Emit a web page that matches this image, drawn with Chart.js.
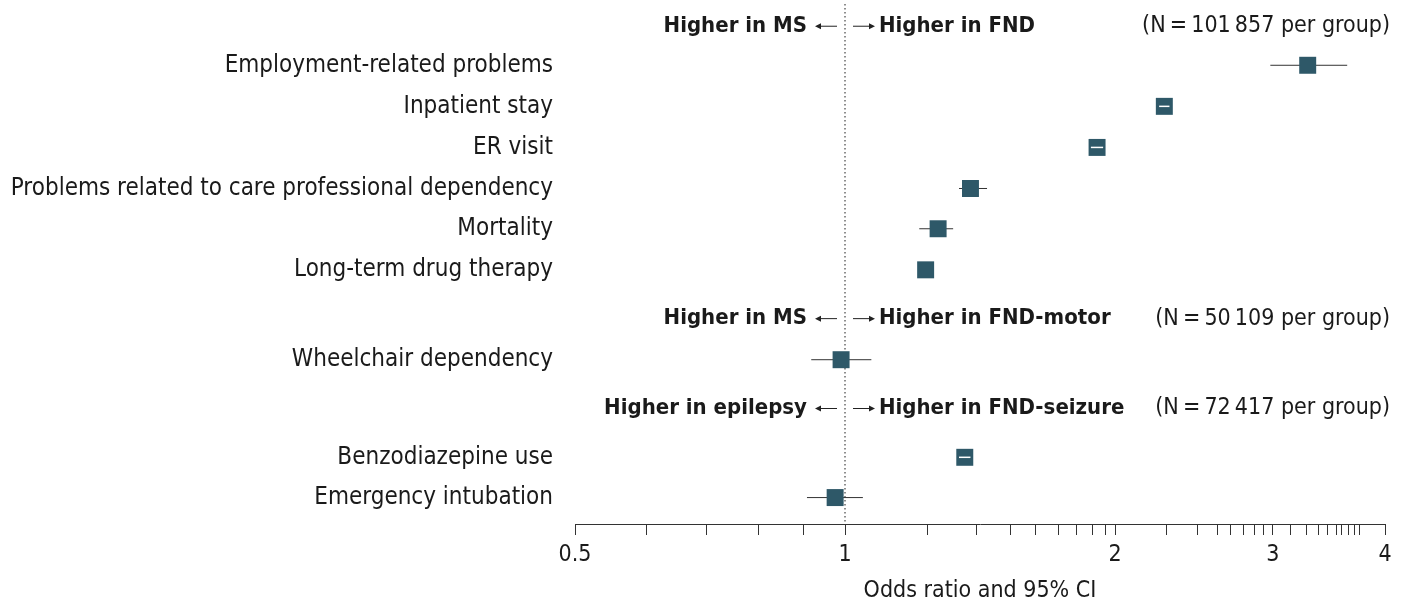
<!DOCTYPE html>
<html><head><meta charset="utf-8">
<script src="https://cdn.jsdelivr.net/npm/chart.js@4"></script>
<style>html,body{margin:0;padding:0;background:#fff}#w{width:1401px;height:609px}</style>
</head><body><div id="w"><canvas id="c"></canvas></div>
<script>
const labels = ["Employment-related problems","Inpatient stay","ER visit","Problems related to care professional dependency","Mortality","Long-term drug therapy","Wheelchair dependency","Benzodiazepine use","Emergency intubation"];
const rowPos = [0.96,1.97,2.98,3.99,4.98,5.99,8.20,10.6,11.59];
const oddsRatio = [3.28,2.27,1.91,1.38,1.27,1.23,0.99,1.36,0.975];
const ciLow = [2.98,2.24,1.88,1.34,1.21,1.22,0.917,1.34,0.907];
const ciHigh = [3.63,2.30,1.94,1.44,1.32,1.24,1.07,1.38,1.047];
const headerPos = [0,7.19,9.4];
const headerLeft = ["Higher in MS","Higher in MS","Higher in epilepsy"];
const headerRight = ["Higher in FND","Higher in FND-motor","Higher in FND-seizure"];
const headerN = ["(N\u2009=\u2009101\u2009857 per group)","(N\u2009=\u200950\u2009109 per group)","(N\u2009=\u200972\u2009417 per group)"];
const majorTicks = [0.5,1,2,3,4];
const minorTicks = [0.6,0.7,0.8,0.9,1.237,1.40,1.53,1.63,1.73,1.81,1.89,1.95,2.28,2.47,2.60,2.69,2.78,2.86,2.93,3.14,3.27,3.37,3.45,3.53,3.58,3.64,3.7,3.75];
const FONT = "'DejaVu Sans Condensed','Liberation Sans Narrow',sans-serif";
const dark = '#2e5868';

const forest = {
  id:'forest',
  beforeDatasetsDraw(ch){
    const {ctx, scales:{x,y}, chartArea:a} = ch;
    ctx.save();
    const x1 = x.getPixelForValue(1);
    ctx.strokeStyle='#444'; ctx.lineWidth=1.2; ctx.setLineDash([1.5,2.5]);
    ctx.beginPath(); ctx.moveTo(x1, 4); ctx.lineTo(x1, a.bottom); ctx.stroke();
    ctx.setLineDash([]);
    ctx.strokeStyle='#333'; ctx.lineWidth=1;
    oddsRatio.forEach((v,i)=>{
      const py=y.getPixelForValue(rowPos[i]);
      ctx.beginPath(); ctx.moveTo(x.getPixelForValue(ciLow[i]),py); ctx.lineTo(x.getPixelForValue(ciHigh[i]),py); ctx.stroke();
    });
    ctx.fillStyle='#1a1a1a'; ctx.textBaseline='middle';
    headerPos.forEach((hp,i)=>{
      const py=y.getPixelForValue(hp);
      ctx.font="bold 22px "+FONT;
      ctx.textAlign='right'; ctx.fillText(headerLeft[i], x1-38, py);
      ctx.textAlign='left'; ctx.fillText(headerRight[i], x1+34, py);
      ctx.font="23px "+FONT;
      ctx.textAlign='right'; ctx.fillText(headerN[i], 1390, py);
      ctx.strokeStyle='#222'; ctx.lineWidth=1;
      [[x1-8,x1-28,-1],[x1+8,x1+28,1]].forEach(([s,e,d])=>{
        ctx.beginPath(); ctx.moveTo(s,py); ctx.lineTo(e,py); ctx.stroke();
        ctx.beginPath(); ctx.moveTo(e+d*2,py); ctx.lineTo(e-d*4,py-3); ctx.lineTo(e-d*4,py+3); ctx.closePath(); ctx.fillStyle='#222'; ctx.fill();
      });
      ctx.fillStyle='#1a1a1a';
    });
    ctx.restore();
  },
  afterDatasetsDraw(ch){
    const {ctx, scales:{x,y}} = ch;
    ctx.save(); ctx.strokeStyle='#fff'; ctx.lineWidth=1.5;
    oddsRatio.forEach((v,i)=>{
      const l=x.getPixelForValue(ciLow[i]), h=x.getPixelForValue(ciHigh[i]);
      if(h-l<17 && h-l>8){const py=y.getPixelForValue(rowPos[i]);
        ctx.beginPath(); ctx.moveTo(l,py); ctx.lineTo(h,py); ctx.stroke();}
    });
    ctx.restore();
  }
};

new Chart(document.getElementById('c'),{
  type:'scatter',
  data:{datasets:[{data:oddsRatio.map((v,i)=>({x:v,y:rowPos[i]})),pointStyle:'rect',pointRadius:12,pointHoverRadius:12,backgroundColor:dark,borderColor:dark,borderWidth:0}]},
  options:{
    responsive:true, maintainAspectRatio:false, animation:false,
    layout:{padding:{top:0,right:16,bottom:0,left:0}},
    plugins:{legend:{display:false},tooltip:{enabled:false}},
    scales:{
      x:{type:'logarithmic',min:0.5,max:4,
        afterBuildTicks(s){s.ticks=majorTicks.concat(minorTicks).sort((a,b)=>a-b).map(v=>({value:v}));},
        afterFit(s){s.height=85;s.paddingLeft=0;s.paddingRight=0;},
        ticks:{autoSkip:false,maxRotation:0,color:'#1a1a1a',font:{family:FONT,size:23},padding:6,
          callback:(v)=>majorTicks.includes(v)?String(v):''},
        grid:{drawOnChartArea:false,drawTicks:true,tickLength:11,color:'#333',tickColor:'#333',lineWidth:1},
        border:{display:true,color:'#333',width:1},
        title:{display:true,text:'Odds ratio and 95% CI',color:'#1a1a1a',font:{family:FONT,size:23},padding:{top:4}}
      },
      y:{type:'linear',reverse:true,min:-0.35,max:12.24,
        afterBuildTicks(s){s.ticks=rowPos.map(v=>({value:v}));},
        afterFit(s){s.width=575;s.paddingTop=0;s.paddingBottom=0;},
        ticks:{autoSkip:false,color:'#1a1a1a',font:{family:FONT,size:24},padding:22,
          callback:(v)=>{const i=rowPos.indexOf(v);return i>=0?labels[i]:'';}},
        grid:{display:false,drawTicks:false},border:{display:false}
      }
    }
  },
  plugins:[forest]
});
</script></body></html>
